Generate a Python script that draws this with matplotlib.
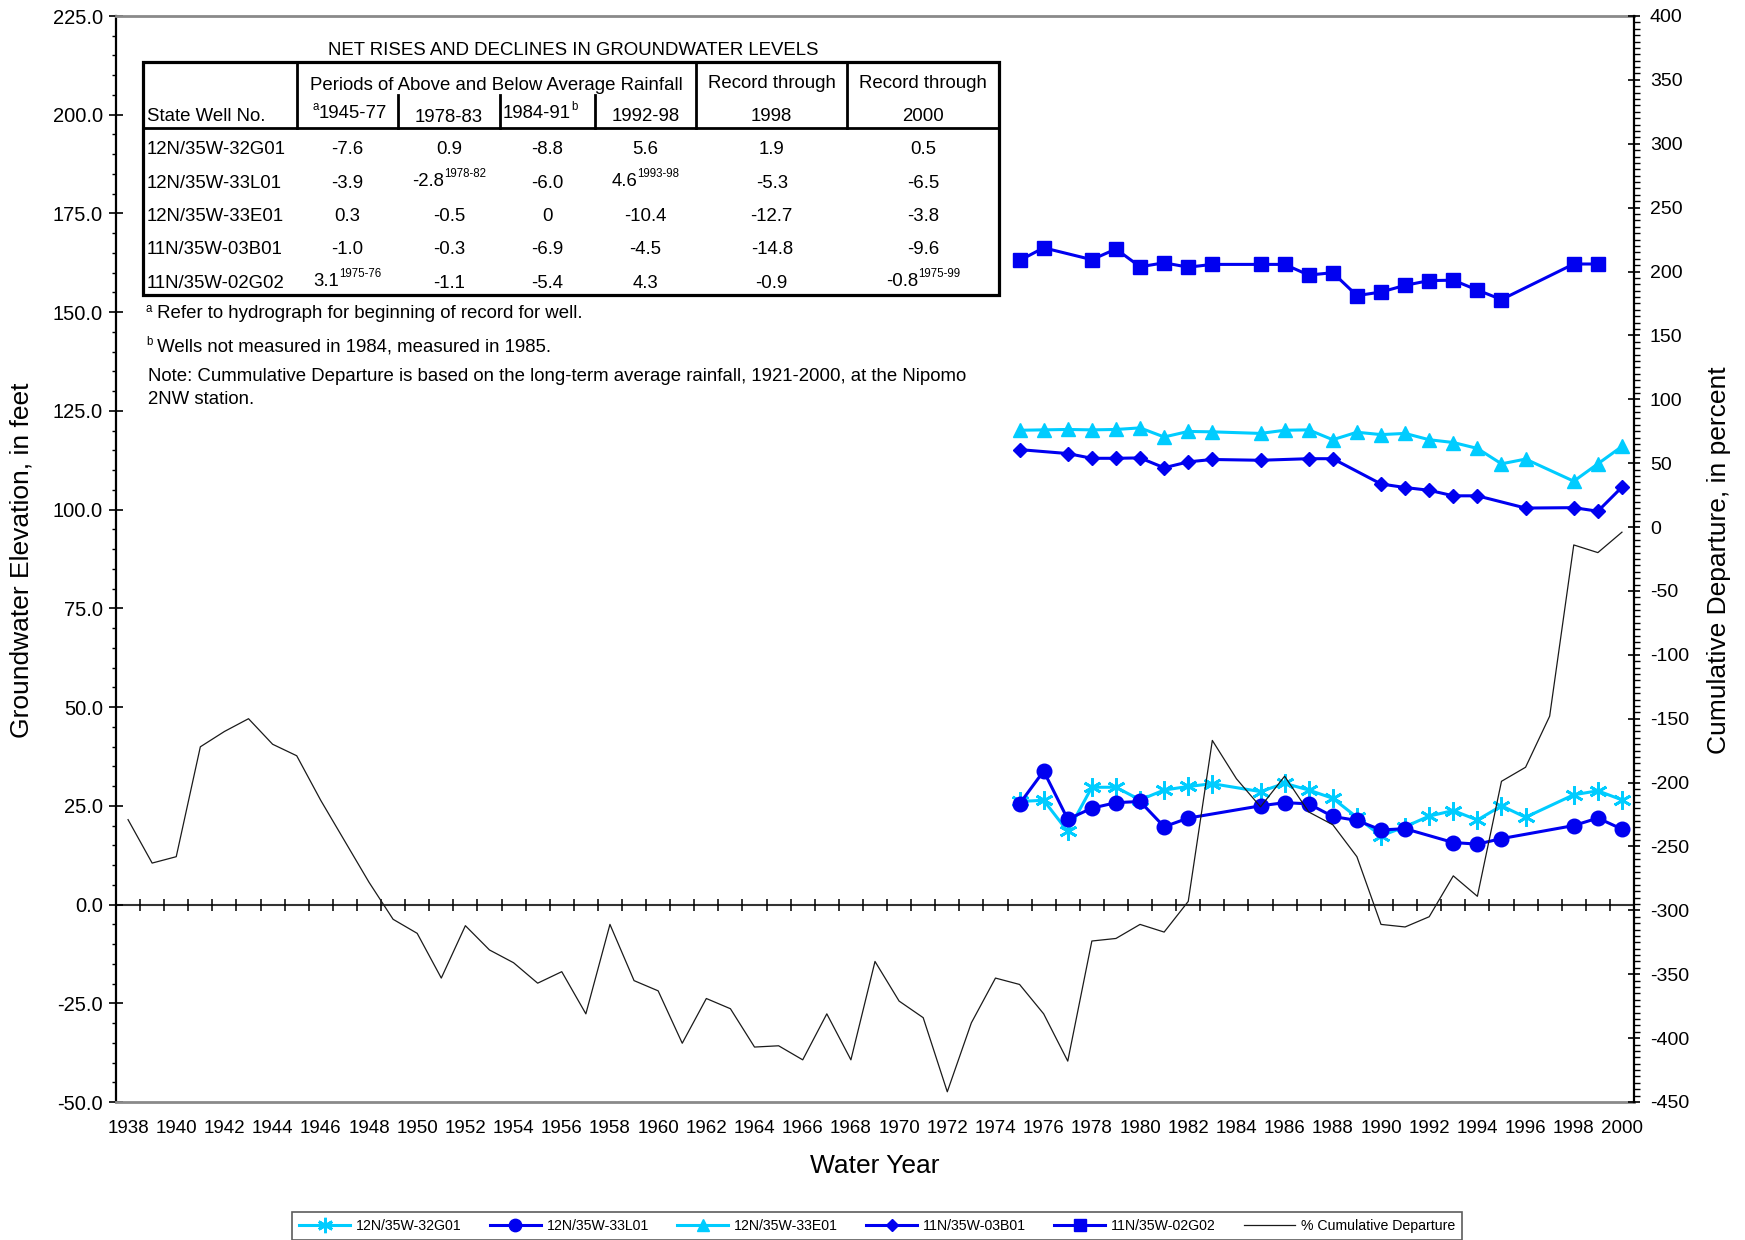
import numpy as np
import matplotlib
matplotlib.use("Agg")
import matplotlib.pyplot as plt
from matplotlib.patches import Rectangle
from matplotlib.ticker import MultipleLocator, FormatStrFormatter

plt.rcParams['font.family'] = ['Liberation Sans', 'DejaVu Sans']
plt.rcParams['axes.unicode_minus'] = False

CYAN = '#00CCFF'
BLUE = '#0000F0'

# well hydrographs, groundwater elevation in feet
yrs_32g01 = [1975, 1976, 1977, 1978, 1979, 1980, 1981, 1982, 1983, 1985, 1986, 1987, 1988,
             1989, 1990, 1991, 1992, 1993, 1994, 1995, 1996, 1998, 1999, 2000]
elev_32g01 = [26.1, 26.4, 18.5, 29.7, 29.7, 26.5, 29.0, 29.9, 30.6, 28.6, 30.7, 29.0, 26.9,
              22.1, 17.4, 19.7, 22.4, 23.8, 21.4, 25.0, 22.1, 27.8, 28.8, 26.5]

yrs_33l01 = [1975, 1976, 1977, 1978, 1979, 1980, 1981, 1982, 1985, 1986, 1987, 1988, 1989,
             1990, 1991, 1993, 1994, 1995, 1998, 1999, 2000]
elev_33l01 = [25.5, 33.8, 21.6, 24.4, 25.8, 26.1, 19.7, 21.9, 25.0, 25.8, 25.5, 22.3, 21.3,
              18.9, 19.2, 15.7, 15.3, 16.7, 20.0, 21.9, 19.1]

yrs_33e01 = [1975, 1976, 1977, 1978, 1979, 1980, 1981, 1982, 1983, 1985, 1986, 1987, 1988,
             1989, 1990, 1991, 1992, 1993, 1994, 1995, 1996, 1998, 1999, 2000]
elev_33e01 = [120.1, 120.2, 120.3, 120.2, 120.3, 120.7, 118.4, 119.8, 119.7, 119.3, 120.1, 120.2, 117.7,
              119.6, 119.0, 119.3, 117.7, 117.0, 115.5, 111.6, 112.8, 107.2, 111.6, 116.0]

yrs_03b01 = [1975, 1977, 1978, 1979, 1980, 1981, 1982, 1983, 1985, 1987, 1988,
             1990, 1991, 1992, 1993, 1994, 1996, 1998, 1999, 2000]
elev_03b01 = [115.2, 114.2, 113.0, 113.0, 113.1, 110.6, 112.1, 112.7, 112.5, 112.9, 112.9,
              106.5, 105.6, 104.9, 103.5, 103.5, 100.4, 100.5, 99.6, 105.7]

yrs_02g02 = [1975, 1976, 1978, 1979, 1980, 1981, 1982, 1983, 1985, 1986, 1987, 1988,
             1989, 1990, 1991, 1992, 1993, 1994, 1995, 1998, 1999]
elev_02g02 = [163.1, 166.3, 163.3, 166.0, 161.5, 162.5, 161.4, 162.1, 162.1, 162.1, 159.4, 160.0,
              154.2, 155.1, 156.8, 158.0, 158.1, 155.6, 153.2, 162.2, 162.2]

# cumulative departure from average rainfall, percent (1938-2000)
cd_years = list(range(1938, 2001))
cum_dep = [-229, -263, -258, -172, -160, -150, -170, -179, -214, -246,
           -278, -307, -318, -353, -312, -331, -341, -357, -348, -381,
           -311, -355, -363, -404, -369, -377, -407, -406, -417, -381,
           -417, -340, -371, -384, -442, -388, -353, -358, -381, -418,
           -324, -322, -311, -317, -293, -167, -197, -219, -195, -223,
           -233, -258, -311, -313, -305, -273, -289, -199, -188, -148,
           -14, -20, -4]

# table
wells = ['12N/35W-32G01', '12N/35W-33L01', '12N/35W-33E01', '11N/35W-03B01', '11N/35W-02G02']
p1945 = ['-7.6', '-3.9', '0.3', '-1.0', '3.1']
p1978 = ['0.9', '-2.8', '-0.5', '-0.3', '-1.1']
p1984 = ['-8.8', '-6.0', '0', '-6.9', '-5.4']
p1992 = ['5.6', '4.6', '-10.4', '-4.5', '4.3']
rec1998 = ['1.9', '-5.3', '-12.7', '-14.8', '-0.9']
rec2000 = ['0.5', '-6.5', '-3.8', '-9.6', '-0.8']
cell_notes = {(0, 4): '1975-76', (1, 1): '1978-82', (3, 1): '1993-98', (5, 4): '1975-99'}

fig = plt.figure(figsize=(17.45, 12.40), dpi=100)
ax = fig.add_axes([116 / 1745, 1 - 1102 / 1240, (1634 - 116) / 1745, (1102 - 16) / 1240])
ax2 = ax.twinx()

ax.axhline(0, color='#333333', lw=1.5, zorder=1)
half_years = np.arange(1938.5, 2000, 1.0)
ax.plot(half_years, np.zeros(len(half_years)), ls='none', marker='|', ms=8.6, mew=1.1,
        color='black', zorder=1)

l1, = ax.plot(yrs_32g01, elev_32g01, color=CYAN, lw=2.2, marker=(6, 2, 0), ms=13, mew=2,
              label='12N/35W-32G01')
l2, = ax.plot(yrs_33l01, elev_33l01, color=BLUE, lw=2.2, marker='o', ms=10.5,
              label='12N/35W-33L01')
l3, = ax.plot(yrs_33e01, elev_33e01, color=CYAN, lw=2.2, marker='^', ms=10.5,
              label='12N/35W-33E01')
l4, = ax.plot(yrs_03b01, elev_03b01, color=BLUE, lw=2.2, marker='D', ms=7.5,
              label='11N/35W-03B01')
l5, = ax.plot(yrs_02g02, elev_02g02, color=BLUE, lw=2.2, marker='s', ms=10,
              label='11N/35W-02G02')
l6, = ax2.plot(cd_years, cum_dep, color='#1a1a1a', lw=0.9, label='% Cumulative Departure')

ax.set_xlim(1937.5, 2000.5)
ax.set_ylim(-50, 225)
ax2.set_ylim(-450, 400)
ax.set_xticks(range(1938, 2001, 2))
ax.tick_params(axis='x', length=0, pad=13, labelsize=13.5)
ax.yaxis.set_major_locator(MultipleLocator(25))
ax.yaxis.set_minor_locator(MultipleLocator(5))
ax.yaxis.set_major_formatter(FormatStrFormatter('%.1f'))
ax.tick_params(axis='y', which='major', direction='inout', length=9.5, width=1.2,
               labelsize=14.5, pad=4.7)
ax.tick_params(axis='y', which='minor', direction='out', length=3.2, width=1)
ax2.yaxis.set_major_locator(MultipleLocator(50))
ax2.yaxis.set_minor_locator(MultipleLocator(5))
ax2.tick_params(axis='y', which='major', direction='inout', length=8, width=1.2,
                labelsize=14, pad=7.5)
ax2.tick_params(axis='y', which='minor', direction='out', length=4.3, width=1)

for s in ['top', 'bottom']:
    ax.spines[s].set_color('#8a8a8a')
    ax.spines[s].set_linewidth(2)
    ax2.spines[s].set_visible(False)
ax.spines['left'].set_linewidth(1.6)
ax.spines['right'].set_visible(False)
ax2.spines['left'].set_visible(False)
ax2.spines['right'].set_linewidth(1.6)

fig.text(875 / 1745, 1 - 1166 / 1240, 'Water Year', ha='center', va='center', fontsize=19)
fig.text(22 / 1745, 1 - 560 / 1240, 'Groundwater Elevation, in feet', ha='center', va='center',
         rotation=90, fontsize=19)
fig.text(1719 / 1745, 1 - 560 / 1240, 'Cumulative Departure, in percent', ha='center',
         va='center', rotation=90, fontsize=19)

leg = fig.legend(handles=[l1, l2, l3, l4, l5, l6], loc='upper center',
                 bbox_to_anchor=(877 / 1745, 1 - 1212 / 1240), ncol=6, fontsize=10.2,
                 handlelength=3.6, handletextpad=0.4, columnspacing=2.0, borderaxespad=0,
                 fancybox=False, borderpad=0.5, markerscale=0.85)
leg.get_frame().set_edgecolor('#333333')
leg.get_frame().set_linewidth(1.2)

# table overlay in pixel coordinates
tax = fig.add_axes([0, 0, 1, 1], zorder=10)
tax.set_xlim(0, 1745)
tax.set_ylim(1240, 0)
tax.axis('off')
tax.patch.set_alpha(0)
renderer = fig.canvas.get_renderer()
FS = 13.4
SUP = 8.3


def text_width(s, size):
    t = tax.text(0, 0, s, fontsize=size)
    w = t.get_window_extent(renderer).width
    t.remove()
    return w


def put(x, y, parts, ha='center'):
    widths = [text_width(s, sz) for s, sz, dy in parts]
    x0 = x - sum(widths) / 2 if ha == 'center' else x
    for (s, sz, dy), w in zip(parts, widths):
        tax.text(x0, y - dy, s, fontsize=sz, ha='left', va='baseline')
        x0 += w


tax.add_patch(Rectangle((143, 62), 856, 233, fc='white', ec='black', lw=2.3))
tax.plot([143, 999], [128, 128], color='black', lw=2)
for xv in [297, 696, 847]:
    tax.plot([xv, xv], [62, 128], color='black', lw=2)
for xv in [398, 500, 595]:
    tax.plot([xv, xv], [95, 128], color='black', lw=2)

tax.text(573, 55, 'NET RISES AND DECLINES IN GROUNDWATER LEVELS', fontsize=FS,
         ha='center', va='baseline')
tax.text(496.5, 90, 'Periods of Above and Below Average Rainfall', fontsize=FS,
         ha='center', va='baseline')
tax.text(771.7, 88.5, 'Record through', fontsize=FS, ha='center', va='baseline')
tax.text(923.3, 88.5, 'Record through', fontsize=FS, ha='center', va='baseline')
tax.text(147, 120.7, 'State Well No.', fontsize=FS, ha='left', va='baseline')
put(350, 117.5, [('a', SUP, 8), ('1945-77', FS, 0)])
put(449, 121.5, [('1978-83', FS, 0)])
put(503, 117.5, [('1984-91', FS, 0), ('b', SUP, 8)], ha='left')
put(645.5, 120.7, [('1992-98', FS, 0)])
put(771.7, 120.7, [('1998', FS, 0)])
put(923.3, 120.7, [('2000', FS, 0)])

col_x = [347.5, 449, 547.5, 645.5, 771.7, 923.3]
row_y = [154, 188, 221, 254.5, 288]
columns = [p1945, p1978, p1984, p1992, rec1998, rec2000]
for r, name in enumerate(wells):
    tax.text(147, row_y[r], name, fontsize=FS, ha='left', va='baseline')
    for c, vals in enumerate(columns):
        if (c, r) in cell_notes:
            put(col_x[c], row_y[r], [(vals[r], FS, 2), (cell_notes[(c, r)], SUP, 11)])
        else:
            put(col_x[c], row_y[r], [(vals[r], FS, 0)])

put(146, 317.5, [('a', SUP, 6), (' Refer to hydrograph for beginning of record for well.', FS, 0)],
    ha='left')
put(146, 351, [('b', SUP, 6), (' Wells not measured in 1984, measured in 1985.', FS, 0)], ha='left')
tax.text(148, 381, 'Note: Cummulative Departure is based on the long-term average rainfall, '
         '1921-2000, at the Nipomo', fontsize=FS, ha='left', va='baseline')
tax.text(148, 404.5, '2NW station.', fontsize=FS, ha='left', va='baseline')

fig.savefig('out.png', dpi=100)
